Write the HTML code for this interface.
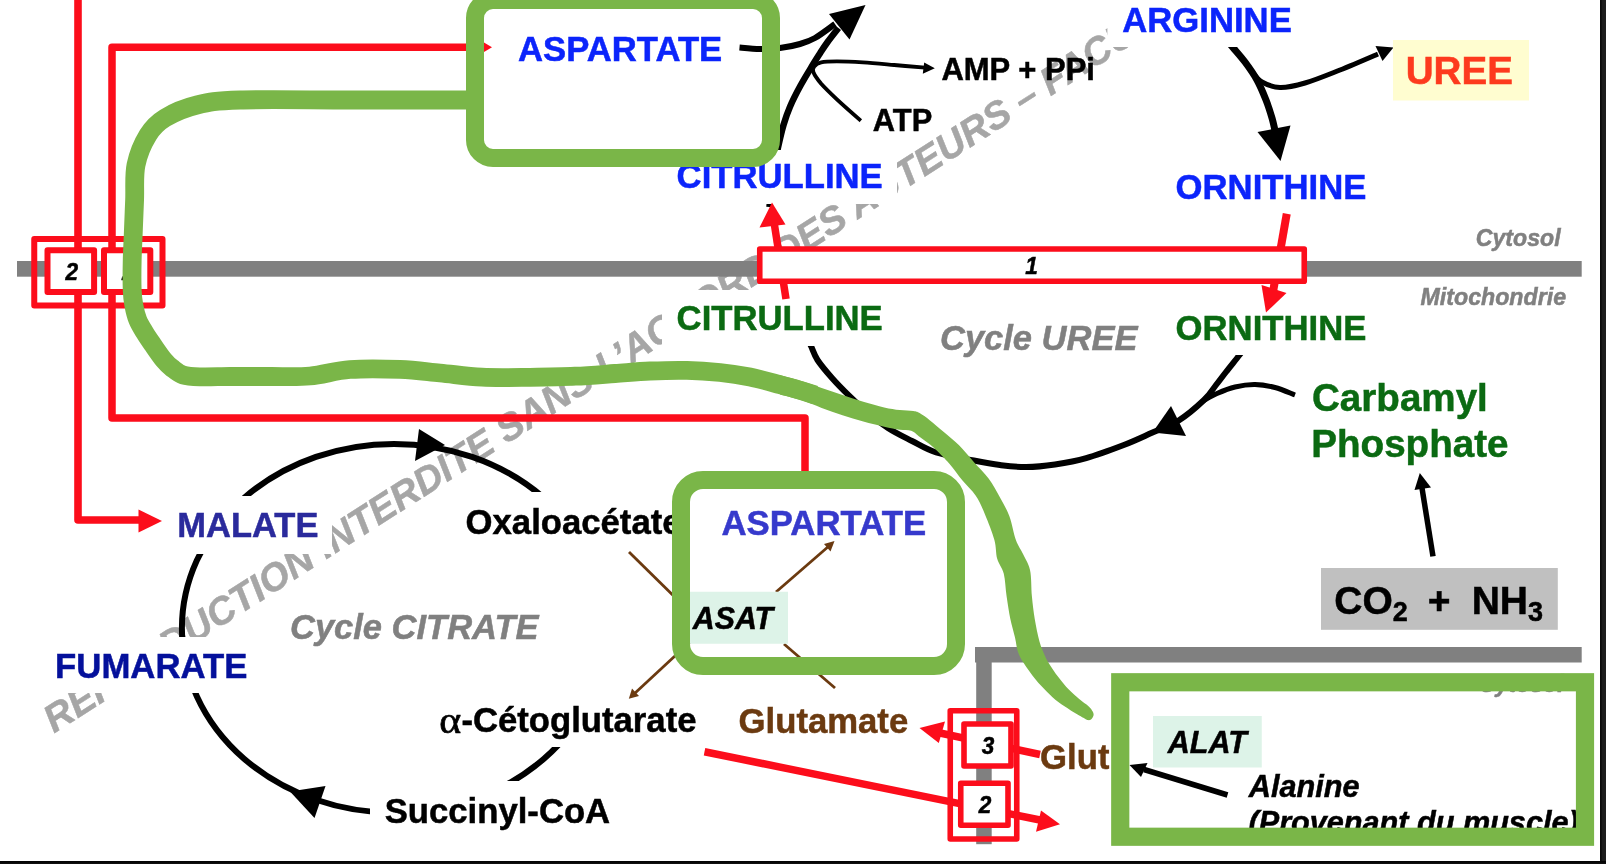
<!DOCTYPE html>
<html lang="fr"><head><meta charset="utf-8"><title>Cycle de l'urée</title>
<style>
html,body{margin:0;padding:0;background:#fff;}
body{width:1606px;height:864px;overflow:hidden;position:relative;}
svg{position:absolute;left:0;top:0;display:block;will-change:transform;}
svg text{font-family:"Liberation Sans",sans-serif;font-weight:bold;}
.edge-r{position:absolute;left:1600px;top:0;width:6px;height:864px;background:linear-gradient(90deg,#0a0a0a 0,#0a0a0a 1px,#1c1c1c 2.5px,#1e1e1e 100%);}
.edge-b{position:absolute;left:0;top:860.6px;width:1606px;height:3.4px;background:linear-gradient(180deg,#030303 0,#050505 1.2px,#141414 100%);}
</style></head><body>
<svg width="1606" height="864" viewBox="0 0 1606 864">
<text transform="translate(54,733.5) rotate(-32.6)" x="0" y="0" font-size="38.5" font-style="italic" fill="#A6A6A6" stroke="#A6A6A6" stroke-width="0.5">REPRODUCTION INTERDITE SANS L’ACCORD DES AUTEURS – FACULTE</text>
<rect x="17" y="261" width="1564.7" height="15.7" fill="#808080"/>
<rect x="975" y="647" width="606.7" height="15.5" fill="#808080"/>
<rect x="976.2" y="647" width="15.5" height="197.2" fill="#808080"/>
<ellipse cx="394" cy="628.3" rx="212.1" ry="184.4" fill="none" stroke="#000" stroke-width="6"/>
<rect x="520" y="492" width="120" height="255" fill="#fff"/>
<path d="M806.0,336.0 C806.8,337.7 809.1,342.0 811.0,346.0 C812.9,350.0 814.0,354.7 817.5,360.0 C821.0,365.3 826.8,372.1 832.0,378.0 C837.2,383.9 842.8,389.6 848.8,395.4 C854.8,401.2 861.4,407.5 868.0,413.0 C874.6,418.5 881.0,423.5 888.3,428.2 C895.6,432.9 904.0,436.9 912.0,441.0 C920.0,445.1 926.0,449.2 936.2,452.5 C946.5,455.8 963.1,458.4 973.8,460.5 C984.4,462.6 991.2,463.9 1000.0,465.0 C1008.8,466.1 1017.1,467.2 1026.2,467.1 C1035.4,467.0 1045.0,466.0 1055.0,464.5 C1065.0,463.0 1074.8,461.4 1086.2,458.1 C1097.7,454.9 1112.8,449.2 1123.8,445.0 C1134.7,440.8 1142.9,436.8 1151.9,432.8 C1160.9,428.8 1169.3,426.5 1178.0,421.0 C1186.7,415.5 1197.7,406.0 1204.0,400.0 C1210.3,394.0 1212.3,389.7 1216.0,385.0 C1219.7,380.3 1222.1,377.0 1226.0,372.0 C1229.9,367.0 1236.0,359.5 1239.5,355.0 C1243.0,350.5 1245.8,346.7 1247.0,345.0" fill="none" stroke="#000" stroke-width="6"/>
<path d="M769.5,207.0 C769.8,204.2 770.2,196.5 771.0,190.0 C771.8,183.5 772.8,175.1 774.0,168.0 C775.2,160.9 776.4,154.7 778.0,147.5 C779.6,140.3 781.5,131.8 783.5,125.0 C785.5,118.2 787.2,113.2 790.0,106.7 C792.8,100.2 796.9,92.2 800.4,85.8 C803.9,79.4 807.5,73.5 810.8,68.1 C814.0,62.7 817.1,57.9 819.9,53.5 C822.7,49.1 824.5,46.2 827.6,42.0 C830.7,37.8 836.7,30.3 838.5,28.0" fill="none" stroke="#000" stroke-width="6.5"/>
<rect x="50.0" y="637.0" width="205.0" height="56.0" fill="#fff"/>
<rect x="170.0" y="496.0" width="162.0" height="58.0" fill="#fff"/>
<rect x="455.0" y="492.0" width="230.0" height="55.0" fill="#fff"/>
<rect x="430.0" y="692.0" width="270.0" height="55.0" fill="#fff"/>
<rect x="370.0" y="781.0" width="248.0" height="55.0" fill="#fff"/>
<rect x="662.0" y="150.0" width="235.0" height="54.0" fill="#fff"/>
<rect x="662.0" y="290.0" width="235.0" height="56.0" fill="#fff"/>
<rect x="1107.6" y="-10.0" width="194.4" height="57.0" fill="#fff"/>
<rect x="1165.0" y="161.0" width="212.0" height="52.0" fill="#fff"/>
<rect x="1165.0" y="300.0" width="212.0" height="55.0" fill="#fff"/>
<path d="M78,-5 V520 H140" fill="none" stroke="#FC0D1B" stroke-width="7.6" stroke-linejoin="round"/>
<path d="M162.0,521.0 L138.5,509.5 L138.5,532.5Z" fill="#FC0D1B"/>
<path d="M485,47.3 H112 V418 H805 V475" fill="none" stroke="#FC0D1B" stroke-width="7.5" stroke-linejoin="round"/>
<path d="M492.0,47.3 L484.0,42.5 L484.0,52.0Z" fill="#FC0D1B"/>
<rect x="34.25" y="238.9" width="128.25" height="66.7" fill="none" stroke="#FC0D1B" stroke-width="6" stroke-linejoin="round"/>
<rect x="47.5" y="250.2" width="46.6" height="41.8" fill="#fff" stroke="#FC0D1B" stroke-width="6" stroke-linejoin="round"/>
<rect x="104" y="250.2" width="46.3" height="41.8" fill="#fff" stroke="#FC0D1B" stroke-width="6" stroke-linejoin="round"/>
<text transform="translate(71.70,280.05) scale(1,1.020)" font-size="22.60" fill="#000" stroke="#000" stroke-width="0.50" font-style="italic" text-anchor="middle">2</text>
<text transform="translate(128.30,279.75) scale(1,1.020)" font-size="22.60" fill="#000" stroke="#000" stroke-width="0.50" font-style="italic" text-anchor="middle">2</text>
<path d="M786,299 L774,222" fill="none" stroke="#FC0D1B" stroke-width="7.5"/>
<path d="M772.0,202.5 L759.5,227.5 L785.5,224.5Z" fill="#FC0D1B"/>
<path d="M1286.75,213.75 L1273,292" fill="none" stroke="#FC0D1B" stroke-width="8"/>
<path d="M1266.0,312.5 L1261.5,285.0 L1286.5,293.0Z" fill="#FC0D1B"/>
<rect x="759.75" y="249" width="544.5" height="32.3" fill="#fff" stroke="#FC0D1B" stroke-width="5.6" stroke-linejoin="round"/>
<text transform="translate(1031.50,273.55) scale(1,1.020)" font-size="22.60" fill="#000" stroke="#000" stroke-width="0.50" font-style="italic" text-anchor="middle">1</text>
<path d="M739.5,47.5 C742.9,47.8 753.2,48.9 760.0,49.0 C766.8,49.1 773.3,48.8 780.0,48.0 C786.7,47.2 794.2,45.7 800.0,44.0 C805.8,42.3 809.2,41.3 815.0,38.0 C820.8,34.7 831.7,26.3 835.0,24.0" fill="none" stroke="#000" stroke-width="6"/>
<path d="M865.5,5.0 L829.0,14.0 L849.5,39.5Z" fill="#000"/>
<path d="M860.8,120.7 C856.8,117.2 843.5,105.6 836.9,99.4 C830.3,93.2 825.2,88.3 821.2,83.8 C817.3,79.2 814.6,75.2 813.4,72.3 C812.2,69.4 812.9,68.2 814.2,66.6 C815.5,64.9 817.5,63.3 821.2,62.4 C825.0,61.5 830.0,61.4 836.9,61.4 C843.8,61.4 853.3,61.8 862.9,62.4 C872.5,63.0 883.9,64.1 894.2,65.0 C904.6,65.9 919.9,67.2 925.0,67.6" fill="none" stroke="#000" stroke-width="3.9"/>
<path d="M934.8,68.3 L924.2,62.4 L922.8,73.8Z" fill="#000"/>
<path d="M1222.0,35.0 C1223.8,37.0 1228.7,42.5 1232.5,47.0 C1236.3,51.5 1240.9,56.5 1245.0,62.0 C1249.1,67.5 1253.5,73.7 1257.0,80.0 C1260.5,86.3 1263.5,93.7 1266.0,100.0 C1268.5,106.3 1270.3,112.2 1272.0,118.0 C1273.7,123.8 1275.3,132.2 1276.0,135.0" fill="none" stroke="#000" stroke-width="7"/>
<path d="M1280.5,161.0 L1257.5,132.0 L1290.5,125.5Z" fill="#000"/>
<rect x="1107.6" y="-10.0" width="194.4" height="57.0" fill="#fff"/>
<path d="M1252.0,72.0 C1253.7,73.7 1257.3,79.4 1262.0,82.0 C1266.7,84.6 1272.8,87.3 1280.0,87.5 C1287.2,87.7 1295.0,85.9 1305.0,83.0 C1315.0,80.1 1327.8,74.8 1340.0,70.0 C1352.2,65.2 1371.7,56.7 1378.0,54.0" fill="none" stroke="#000" stroke-width="5"/>
<path d="M1393.5,47.5 L1375.5,46.0 L1382.5,61.0Z" fill="#000"/>
<path d="M1152.5,432.5 L1171.0,406.0 L1186.0,436.0Z" fill="#000"/>
<path d="M1295.0,395.0 C1291.7,393.8 1281.7,389.2 1275.0,387.5 C1268.3,385.8 1261.7,384.6 1255.0,384.5 C1248.3,384.4 1241.3,385.5 1235.0,387.0 C1228.7,388.5 1222.3,391.2 1217.0,393.5 C1211.7,395.8 1205.3,399.8 1203.0,401.0" fill="none" stroke="#000" stroke-width="5"/>
<path d="M445.0,445.0 L419.0,429.0 L415.0,461.0Z" fill="#000"/>
<path d="M290.0,791.5 L325.5,786.0 L314.5,818.0Z" fill="#000"/>
<path d="M1433,556.4 L1422,488" fill="none" stroke="#000" stroke-width="5.5"/>
<path d="M1419.8,473.0 L1414.5,490.0 L1431.0,487.5Z" fill="#000"/>
<path d="M1227.5,795 L1144,769.5" fill="none" stroke="#000" stroke-width="5.5"/>
<path d="M1129.5,765.0 L1147.5,763.0 L1141.0,777.0Z" fill="#000"/>
<rect x="1393" y="40" width="136" height="60.5" fill="#FFFDD0"/>
<rect x="1321" y="568" width="236.8" height="61.8" fill="#C0C0C0"/>
<path d="M629,552 L690,612" fill="none" stroke="#6B3A10" stroke-width="2.8"/>
<path d="M776,592 L829,546" fill="none" stroke="#6B3A10" stroke-width="2.8"/>
<path d="M834.5,541.0 L824.0,544.0 L830.5,551.5Z" fill="#6B3A10"/>
<path d="M690,642 L634,694" fill="none" stroke="#6B3A10" stroke-width="2.8"/>
<path d="M628.8,698.8 L632.0,688.5 L639.0,696.0Z" fill="#6B3A10"/>
<path d="M784,644 L835,688" fill="none" stroke="#6B3A10" stroke-width="2.8"/>
<rect x="690" y="591.75" width="98" height="52" fill="#DDF3E8"/>
<path d="M1040,754.5 L940,733" fill="none" stroke="#FC0D1B" stroke-width="7.5"/>
<path d="M919.5,728.0 L945.0,721.5 L938.8,743.0Z" fill="#FC0D1B"/>
<path d="M704.5,751.75 L1040,820" fill="none" stroke="#FC0D1B" stroke-width="7.5"/>
<path d="M1060.0,824.2 L1041.0,810.5 L1036.0,831.8Z" fill="#FC0D1B"/>
<rect x="950.25" y="710.75" width="66.5" height="128.25" fill="none" stroke="#FC0D1B" stroke-width="5.6" stroke-linejoin="round"/>
<rect x="964" y="724" width="47" height="42" fill="#fff" stroke="#FC0D1B" stroke-width="5.6" stroke-linejoin="round"/>
<rect x="960.75" y="783.25" width="47.25" height="42" fill="#fff" stroke="#FC0D1B" stroke-width="5.6" stroke-linejoin="round"/>
<text transform="translate(988.00,754.05) scale(1,1.020)" font-size="22.60" fill="#000" stroke="#000" stroke-width="0.50" font-style="italic" text-anchor="middle">3</text>
<text transform="translate(985.00,813.05) scale(1,1.020)" font-size="22.60" fill="#000" stroke="#000" stroke-width="0.50" font-style="italic" text-anchor="middle">2</text>
<text transform="translate(518.00,61.00) scale(1,1.020)" font-size="34.70" fill="#0B24FB" stroke="#0B24FB" stroke-width="0.50" >ASPARTATE</text>
<text transform="translate(676.60,187.75) scale(1,1.020)" font-size="34.70" fill="#0B24FB" stroke="#0B24FB" stroke-width="0.50" >CITRULLINE</text>
<text transform="translate(1122.20,31.75) scale(1,1.020)" font-size="34.70" fill="#0B24FB" stroke="#0B24FB" stroke-width="0.50" >ARGININE</text>
<text transform="translate(1175.60,198.50) scale(1,1.020)" font-size="34.70" fill="#0B24FB" stroke="#0B24FB" stroke-width="0.50" >ORNITHINE</text>
<text transform="translate(1405.70,84.25) scale(1,1.020)" font-size="38.60" fill="#FD3A1E" stroke="#FD3A1E" stroke-width="0.50" >UREE</text>
<text transform="translate(941.40,80.15) scale(1,1.020)" font-size="31.00" fill="#000" stroke="#000" stroke-width="0.50" >AMP + PPi</text>
<text transform="translate(872.80,130.50) scale(1,1.020)" font-size="30.85" fill="#000" stroke="#000" stroke-width="0.50" >ATP</text>
<text transform="translate(676.60,330.25) scale(1,1.020)" font-size="34.70" fill="#0B6A12" stroke="#0B6A12" stroke-width="0.50" >CITRULLINE</text>
<text transform="translate(1175.60,339.75) scale(1,1.020)" font-size="34.70" fill="#0B6A12" stroke="#0B6A12" stroke-width="0.50" >ORNITHINE</text>
<text transform="translate(940.00,349.75) scale(1,1.020)" font-size="34.50" fill="#808080" stroke="#808080" stroke-width="0.50" font-style="italic" >Cycle UREE</text>
<text transform="translate(1475.85,245.50) scale(1,1.020)" font-size="23.10" fill="#808080" stroke="#808080" stroke-width="0.50" font-style="italic" >Cytosol</text>
<text transform="translate(1420.50,305.25) scale(1,1.020)" font-size="23.20" fill="#808080" stroke="#808080" stroke-width="0.50" font-style="italic" >Mitochondrie</text>
<text transform="translate(1312.00,410.75) scale(1,1.020)" font-size="38.60" fill="#0B6A12" stroke="#0B6A12" stroke-width="0.50" >Carbamyl</text>
<text transform="translate(1311.30,457.25) scale(1,1.020)" font-size="38.60" fill="#0B6A12" stroke="#0B6A12" stroke-width="0.50" >Phosphate</text>
<text transform="translate(177.30,537.25) scale(1,1.020)" font-size="34.50" fill="#2A2A9C" stroke="#2A2A9C" stroke-width="0.50" >MALATE</text>
<text transform="translate(465.60,533.50) scale(1,1.020)" font-size="34.70" fill="#000" stroke="#000" stroke-width="0.50" >Oxaloacétate</text>
<text transform="translate(721.40,534.75) scale(1,1.020)" font-size="34.80" fill="#3639CC" stroke="#3639CC" stroke-width="0.50" >ASPARTATE</text>
<text transform="translate(692.80,628.50) scale(1,1.020)" font-size="30.30" fill="#000" stroke="#000" stroke-width="0.50" font-style="italic" >ASAT</text>
<text transform="translate(290.00,639.35) scale(1,1.020)" font-size="34.50" fill="#808080" stroke="#808080" stroke-width="0.50" font-style="italic" >Cycle CITRATE</text>
<text transform="translate(55.10,677.75) scale(1,1.020)" font-size="34.75" fill="#04109B" stroke="#04109B" stroke-width="0.50" >FUMARATE</text>
<text transform="translate(439.2,732.8) scale(1.13,1)" font-size="37" fill="#000" stroke="#000" stroke-width="0.7" style="font-family:'Liberation Serif','DejaVu Serif',serif;font-weight:normal">α</text>
<text transform="translate(461.40,731.50) scale(1,1.020)" font-size="34.70" fill="#000" stroke="#000" stroke-width="0.50" >-Cétoglutarate</text>
<text transform="translate(738.60,732.75) scale(1,1.020)" font-size="34.70" fill="#6B3A10" stroke="#6B3A10" stroke-width="0.50" >Glutamate</text>
<text transform="translate(384.70,822.75) scale(1,1.020)" font-size="34.70" fill="#000" stroke="#000" stroke-width="0.50" >Succinyl-CoA</text>
<text transform="translate(1040.10,768.75) scale(1,1.020)" font-size="34.70" fill="#6B3A10" stroke="#6B3A10" stroke-width="0.50" >Glutamate</text>
<rect x="1109.4" y="745" width="6" height="28" fill="#fff"/>
<rect x="1120" y="682" width="465" height="154.5" fill="#fff"/>
<rect x="1153" y="716" width="108.75" height="51.5" fill="#DDF3E8"/>
<text transform="translate(1167.80,752.75) scale(1,1.020)" font-size="30.50" fill="#000" stroke="#000" stroke-width="0.50" font-style="italic" >ALAT</text>
<text transform="translate(1248.80,796.50) scale(1,1.020)" font-size="30.70" fill="#000" stroke="#000" stroke-width="0.50" font-style="italic" >Alanine</text>
<text transform="translate(1248.50,833.25) scale(1,1.020)" font-size="30.65" fill="#000" stroke="#000" stroke-width="0.50" font-style="italic" >(Provenant du muscle)</text>
<text transform="translate(1478.85,692.05) scale(1,1.020)" font-size="23.10" fill="#808080" stroke="#808080" stroke-width="0.50" font-style="italic" >Cytosol</text>
<path d="M1227.5,795 L1144,769.5" fill="none" stroke="#000" stroke-width="5.5"/>
<path d="M1129.5,765.0 L1147.5,763.0 L1141.0,777.0Z" fill="#000"/>
<rect x="1120.25" y="682.25" width="464.75" height="154.5" fill="none" stroke="#7AB648" stroke-width="18.2"/>
<text x="1334.3" y="614" font-size="39" fill="#000" stroke="#000" stroke-width="0.5">CO<tspan font-size="27" dy="7.3">2</tspan></text>
<text x="1427.8" y="614" font-size="39" fill="#000" stroke="#000" stroke-width="0.5">+</text>
<text x="1471.7" y="614" font-size="39" fill="#000" stroke="#000" stroke-width="0.5">NH<tspan font-size="27" dy="7.3">3</tspan></text>
<rect x="475" y="0" width="296" height="158" rx="18" ry="18" fill="none" stroke="#7AB648" stroke-width="18"/>
<rect x="681" y="480" width="275" height="186" rx="22" ry="22" fill="none" stroke="#7AB648" stroke-width="18"/>
<path d="M468.0,100.0 C448.3,100.0 388.0,100.0 350.0,100.0 C312.0,100.0 265.5,99.2 240.0,100.0 C214.5,100.8 209.5,102.0 197.0,105.0 C184.5,108.0 173.2,113.0 165.0,118.0 C156.8,123.0 152.8,127.2 148.0,135.0 C143.2,142.8 138.2,154.2 136.0,165.0 C133.8,175.8 135.1,188.3 134.6,200.0 C134.1,211.7 133.6,225.0 133.2,235.0 C132.8,245.0 132.4,250.8 132.2,260.0 C132.0,269.2 131.9,282.5 132.2,290.0 C132.5,297.5 132.9,300.0 133.8,305.0 C134.7,310.0 135.9,315.3 137.8,320.0 C139.7,324.7 142.5,328.8 145.0,333.0 C147.5,337.2 149.9,340.5 153.0,345.0 C156.1,349.5 160.6,356.2 163.8,360.0 C166.9,363.8 168.8,365.5 172.0,368.0 C175.2,370.5 178.3,373.5 183.0,375.0 C187.7,376.5 192.2,376.6 200.0,376.8 C207.8,377.1 218.3,376.6 230.0,376.5 C241.7,376.4 256.7,376.6 270.0,376.5 C283.3,376.4 296.7,377.2 310.0,376.0 C323.3,374.8 335.0,370.6 350.0,369.5 C365.0,368.4 385.0,368.8 400.0,369.4 C415.0,370.0 426.3,371.7 440.0,373.0 C453.7,374.3 467.0,376.5 482.0,377.2 C497.0,378.0 514.5,377.5 530.0,377.3 C545.5,377.1 560.8,376.9 575.0,376.2 C589.2,375.6 602.5,374.4 615.0,373.5 C627.5,372.6 638.0,371.5 650.0,371.0 C662.0,370.5 675.3,370.1 687.0,370.4 C698.7,370.6 709.5,371.4 720.0,372.5 C730.5,373.6 740.0,375.0 750.0,377.0 C760.0,379.0 771.5,382.4 780.0,384.7 C788.5,386.9 795.0,388.8 800.8,390.5 C806.6,392.2 812.6,394.2 815.0,395.0" fill="none" stroke="#7AB648" stroke-width="18.8" stroke-linecap="butt" stroke-linejoin="round"/>
<path d="M780.0,375.1 C783.5,376.1 793.8,378.6 800.8,380.8 C807.8,383.0 814.8,385.8 821.7,388.1 C828.7,390.5 835.6,392.6 842.5,394.9 C849.4,397.2 856.3,399.6 863.3,401.7 C870.2,403.8 878.1,406.0 884.2,407.4 C890.3,408.8 894.9,409.4 899.8,410.0 C904.6,410.6 910.0,410.5 913.3,411.0 C916.6,411.5 916.8,411.5 919.6,413.1 C922.4,414.7 926.0,417.3 930.0,420.4 C934.0,423.5 939.0,427.8 943.8,431.9 C948.5,436.0 953.8,440.0 958.8,445.0 C963.8,450.0 968.8,456.3 973.8,461.9 C978.8,467.5 984.4,472.8 988.8,478.8 C993.1,484.7 996.6,491.2 1000.0,497.5 C1003.4,503.8 1006.8,509.2 1009.4,516.2 C1012.0,523.3 1013.7,533.9 1015.9,540.0 C1018.1,546.1 1020.1,548.1 1022.5,553.1 C1024.8,558.1 1028.4,562.8 1030.0,570.0 C1031.6,577.2 1031.1,588.1 1031.9,596.2 C1032.7,604.4 1033.5,611.2 1034.7,618.8 C1036.0,626.2 1037.7,635.0 1039.4,641.2 C1041.1,647.5 1043.4,652.3 1045.0,656.0 C1046.6,659.7 1046.8,660.0 1049.0,663.5 C1051.2,667.0 1055.0,672.8 1058.3,677.1 C1061.6,681.5 1065.3,686.0 1068.8,689.6 C1072.2,693.2 1075.9,696.2 1079.2,699.0 C1082.5,701.8 1086.2,704.2 1088.5,706.2 C1090.8,708.3 1091.9,710.0 1092.7,711.5 C1093.5,713.0 1093.8,714.2 1093.5,715.5 C1093.2,716.8 1092.0,718.8 1091.0,719.5 C1090.0,720.2 1088.8,720.3 1087.5,720.0 C1086.2,719.7 1086.1,719.3 1083.3,717.7 C1080.5,716.1 1075.0,713.0 1070.8,710.4 C1066.6,707.8 1062.3,705.2 1058.3,702.1 C1054.3,699.0 1050.7,695.5 1046.9,691.7 C1043.1,687.9 1039.2,683.9 1035.4,679.2 C1031.6,674.5 1026.9,668.0 1024.0,663.5 C1021.1,659.0 1019.5,656.3 1018.0,652.0 C1016.5,647.7 1016.3,643.0 1015.0,637.5 C1013.7,632.0 1011.7,625.6 1010.3,618.8 C1008.9,611.9 1007.7,603.8 1006.6,596.2 C1005.5,588.8 1005.3,580.0 1003.8,573.8 C1002.2,567.5 998.8,564.4 997.2,558.8 C995.6,553.1 996.4,547.4 994.4,540.0 C992.4,532.6 988.1,521.8 985.0,514.4 C981.9,507.0 979.4,501.2 975.6,495.6 C971.9,490.0 966.9,485.9 962.5,480.6 C958.1,475.3 953.8,468.9 949.4,463.8 C945.0,458.6 939.5,453.2 936.2,450.0 C933.0,446.8 933.0,446.7 930.0,444.4 C927.0,442.1 921.6,438.3 918.5,436.0 C915.4,433.7 914.4,431.8 911.2,430.8 C908.1,429.8 904.3,430.5 899.8,429.8 C895.3,429.1 890.3,428.1 884.2,426.7 C878.1,425.3 870.2,423.4 863.3,421.5 C856.3,419.6 849.4,417.5 842.5,415.2 C835.6,412.9 828.7,410.4 821.7,407.9 C814.8,405.4 807.8,402.4 800.8,400.1 C793.8,397.9 783.5,395.3 780.0,394.4Z" fill="#7AB648"/>
</svg>
<div class="edge-r"></div><div class="edge-b"></div>
</body></html>
